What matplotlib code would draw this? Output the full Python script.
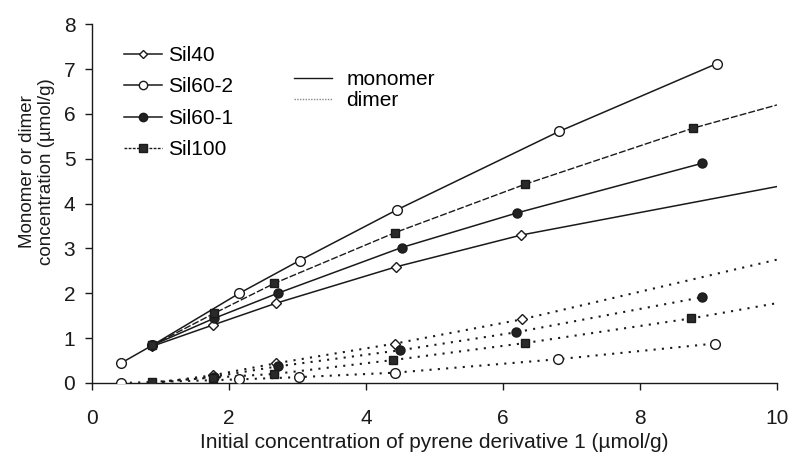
import matplotlib
matplotlib.use("Agg")
import matplotlib.pyplot as plt
from matplotlib.lines import Line2D

plt.rcParams["font.family"] = ["Liberation Sans", "DejaVu Sans"]

# monomer concentration per sample (umol/g)
sil40_x = [0.88, 1.76, 2.69, 4.44, 6.27]
sil40_mono = [0.82, 1.29, 1.78, 2.59, 3.30]
sil60_2_x = [0.42, 0.88, 2.15, 3.03, 4.45, 6.82, 9.12]
sil60_2_mono = [0.44, 0.84, 2.00, 2.73, 3.86, 5.61, 7.12]
sil60_1_x = [0.88, 1.78, 2.71, 4.52, 6.20, 8.91]
sil60_1_mono = [0.84, 1.44, 2.00, 3.02, 3.79, 4.90]
sil100_x = [0.88, 1.78, 2.66, 4.42, 6.32, 8.77]
sil100_mono = [0.84, 1.55, 2.22, 3.35, 4.43, 5.68]

# dimer concentration per sample (umol/g)
sil40_dx = [1.76, 2.69, 4.43, 6.28]
sil40_dim = [0.17, 0.44, 0.88, 1.42]
sil60_2_dx = [0.43, 2.15, 3.02, 4.43, 6.81, 9.10]
sil60_2_dim = [0.00, 0.08, 0.13, 0.23, 0.53, 0.88]
sil60_1_dx = [1.78, 2.71, 4.50, 6.19, 8.90]
sil60_1_dim = [0.14, 0.37, 0.73, 1.13, 1.91]
sil100_dx = [0.88, 1.76, 2.66, 4.39, 6.32, 8.75]
sil100_dim = [0.02, 0.12, 0.20, 0.51, 0.89, 1.44]

# fitted curves carried on to the end of the axis
fit_end_x = 10.0
sil40_mono_end = 4.38
sil100_mono_end = 6.20
sil40_dim_end = 2.75
sil100_dim_end = 1.78

fig = plt.figure(figsize=(7.9, 4.57), dpi=100)
ax = fig.add_axes([0.1165, 0.162, 0.867, 0.785])

black = "#1a1a1a"
mono_kw = dict(color=black, lw=1.1)
dim_kw = dict(color=black, lw=1.5, linestyle=(0, (1, 3)))
sil100_kw = dict(color=black, lw=1.0, linestyle=(0, (5, 1.5)))

# monomer curves
ax.plot(sil40_x + [fit_end_x], sil40_mono + [sil40_mono_end], **mono_kw)
ax.plot(sil60_2_x, sil60_2_mono, **mono_kw)
ax.plot(sil60_1_x, sil60_1_mono, **mono_kw)
ax.plot(sil100_x + [fit_end_x], sil100_mono + [sil100_mono_end], **sil100_kw)

# dimer curves
ax.plot([0.9] + sil40_dx + [fit_end_x], [0.0] + sil40_dim + [sil40_dim_end], **dim_kw)
ax.plot(sil60_2_dx, sil60_2_dim, **dim_kw)
ax.plot([0.9] + sil60_1_dx, [0.0] + sil60_1_dim, **dim_kw)
ax.plot(sil100_dx + [fit_end_x], sil100_dim + [sil100_dim_end], **dim_kw)

# markers
mk = dict(linestyle="none", markeredgecolor=black, markeredgewidth=1.0, zorder=3)
for xs, ys in [(sil40_x, sil40_mono), (sil40_dx, sil40_dim)]:
    ax.plot(xs, ys, marker="D", markersize=5, markerfacecolor="white", **mk)
for xs, ys in [(sil60_2_x, sil60_2_mono), (sil60_2_dx, sil60_2_dim)]:
    ax.plot(xs, ys, marker="o", markersize=7, markerfacecolor="white", **mk)
for xs, ys in [(sil60_1_x, sil60_1_mono), (sil60_1_dx, sil60_1_dim)]:
    ax.plot(xs, ys, marker="o", markersize=6.5, markerfacecolor="#222222", **mk)
for xs, ys in [(sil100_x, sil100_mono), (sil100_dx, sil100_dim)]:
    ax.plot(xs, ys, marker="s", markersize=6, markerfacecolor="#2a2a2a", **mk)

ax.set_xlim(0, 10)
ax.set_ylim(0, 8)
ax.set_xticks([0, 2, 4, 6, 8, 10])
ax.set_yticks(range(0, 9))
for s in ["top", "right"]:
    ax.spines[s].set_visible(False)
for s in ["left", "bottom"]:
    ax.spines[s].set_color(black)
    ax.spines[s].set_linewidth(1.0)
ax.tick_params(axis="both", direction="out", length=5, width=1.0,
               labelsize=15, colors=black)
ax.tick_params(axis="x", pad=14)
ax.tick_params(axis="y", pad=7)
ax.set_xlabel("Initial concentration of pyrene derivative 1 (\u00b5mol/g)",
              fontsize=15, color=black, labelpad=3)
ax.set_ylabel("Monomer or dimer\nconcentration (\u00b5mol/g)",
              fontsize=13.5, color=black, linespacing=1.15)
ax.yaxis.set_label_coords(-0.054, 0.59)

# legends
sample_handles = [
    Line2D([], [], color=black, lw=1.1, marker="D", markersize=4.5,
           markerfacecolor="white", markeredgecolor=black),
    Line2D([], [], color=black, lw=1.1, marker="o", markersize=6,
           markerfacecolor="white", markeredgecolor=black),
    Line2D([], [], color=black, lw=1.1, marker="o", markersize=6,
           markerfacecolor="#222222", markeredgecolor=black),
    Line2D([], [], color=black, lw=1.0, linestyle=(0, (2, 1)), marker="s",
           markersize=5.5, markerfacecolor="#2a2a2a", markeredgecolor=black),
]
leg1 = ax.legend(sample_handles, ["Sil40", "Sil60-2", "Sil60-1", "Sil100"],
                 loc="upper left", bbox_to_anchor=(0.02, 0.992), frameon=False,
                 fontsize=15, handlelength=1.8, handletextpad=0.3,
                 labelspacing=0.6)
ax.add_artist(leg1)

type_handles = [
    Line2D([], [], color=black, lw=1.0),
    Line2D([], [], color="#888888", lw=1.0, linestyle=(0, (1, 1))),
]
ax.legend(type_handles, ["monomer", "dimer"], loc="upper left",
          bbox_to_anchor=(0.268, 0.925), frameon=False, fontsize=15,
          handlelength=1.8, handletextpad=0.7, labelspacing=0.1)

fig.savefig("out.png", dpi=100, facecolor="white")
